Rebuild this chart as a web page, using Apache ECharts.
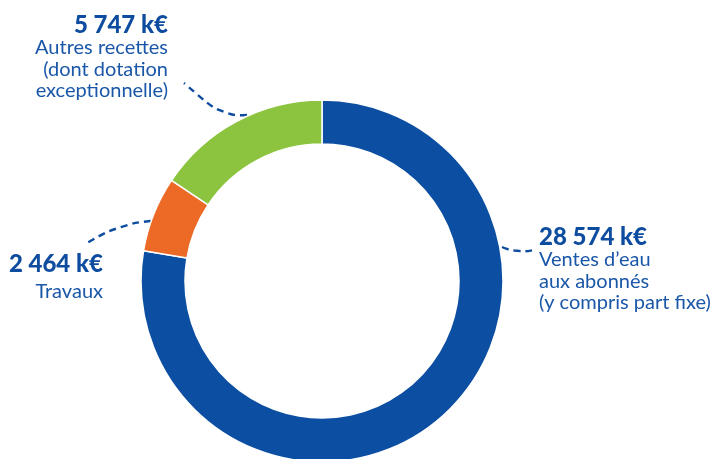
<!DOCTYPE html>
<html>
<head>
<meta charset="utf-8">
<script src="https://cdn.jsdelivr.net/npm/echarts@6/dist/echarts.min.js"></script>
<style>
  html, body { margin: 0; background: #fff; }
  #chart { width: 710px; height: 459px; }
</style>
</head>
<body>
<div id="chart"></div>
<script>
// data (k€)
const categories = [
  ['Ventes d’eau', 'aux abonnés', '(y compris part fixe)'],
  ['Travaux'],
  ['Autres recettes', '(dont dotation', 'exceptionnelle)']
];
const values = [28574, 2464, 5747];
const valueLabels = ['28 574 k€', '2 464 k€', '5 747 k€'];
const colors = ['#0b4ea2', '#ec6a25', '#8cc43f'];

// label block anchor + dashed leader points for each slice
const spots = [
  { x: 539, y: 225, align: 'left', line: [[502, 247], [517, 253], [534, 250]] },
  { x: 103, y: 251, align: 'right', line: [[151, 221], [120, 224], [87, 243]] },
  { x: 168, y: 13, align: 'right', line: [[247, 115], [222, 116], [184, 83]] }
];

const blue = '#0d4c9f';

const chart = echarts.init(document.getElementById('chart'), null, { renderer: 'canvas' });

const data = values.map((v, i) => ({
  name: categories[i].join(' '),
  value: v,
  itemStyle: { color: colors[i] },
  label: {
    formatter: ['{v|' + valueLabels[i] + '}']
      .concat(categories[i].map(t => '{t|' + t + '}'))
      .join('\n'),
    rich: {
      v: { fontFamily: 'Lato', fontSize: 24, fontWeight: 900, color: blue, lineHeight: i === 1 ? 27 : 24, align: spots[i].align },
      t: { fontFamily: 'Lato', fontSize: 20, color: '#1a57a8', lineHeight: i === 1 ? 27 : 21.5, align: spots[i].align }
    }
  }
}));

chart.setOption({
  animation: false,
  series: [{
    type: 'pie',
    center: [322, 281],
    radius: [137, 181],
    startAngle: 90,
    clockwise: true,
    silent: true,
    itemStyle: { borderColor: '#fff', borderWidth: 1.5 },
    label: { show: true, position: 'outside' },
    labelLine: {
      show: true,
      smooth: 0.5,
      lineStyle: { color: blue, width: 2.4, type: [7, 5] }
    },
    labelLayout: function (params) {
      const s = spots[params.dataIndex];
      return {
        x: s.x,
        y: s.y,
        align: s.align,
        verticalAlign: 'top',
        labelLinePoints: s.line
      };
    },
    data: data
  }]
});
</script>
</body>
</html>
